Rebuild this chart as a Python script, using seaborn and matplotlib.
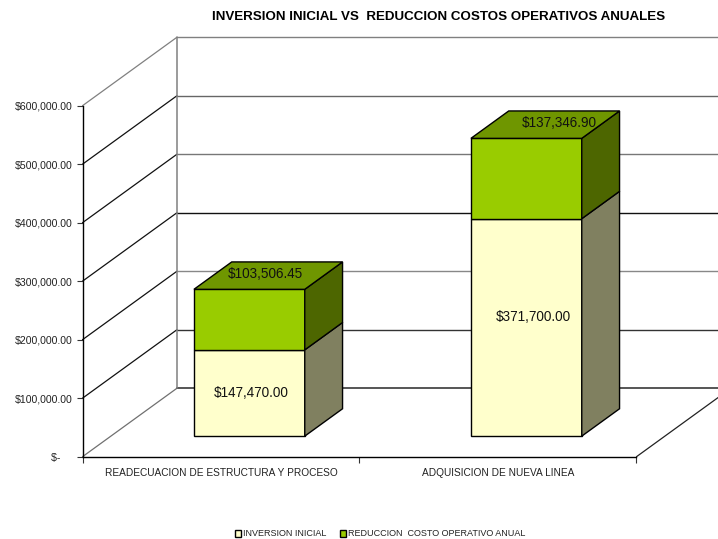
import numpy as np
import matplotlib
matplotlib.use("Agg")
import matplotlib.pyplot as plt
from matplotlib.patches import Polygon
import seaborn as sns

title = "INVERSION INICIAL VS  REDUCCION COSTOS OPERATIVOS ANUALES"
categories = ["READECUACION DE ESTRUCTURA Y PROCESO", "ADQUISICION DE NUEVA LINEA"]
inversion = [147470.00, 371700.00]
reduccion = [103506.45, 137346.90]
series_names = ["INVERSION INICIAL", "REDUCCION  COSTO OPERATIVO ANUAL"]
ticks = [0, 100000, 200000, 300000, 400000, 500000, 600000]

sns.set_style("white")
plt.rcParams["font.family"] = ["Liberation Sans", "DejaVu Sans"]

W, H = 718, 539
PX_PER_CAT, PX_PER_VAL = 277.0, 58.5 / 100000
X0, Y0 = 82.5, 456.7          # pixel location of the axis origin
DEPTH_X = 94.5 / PX_PER_CAT   # chart depth expressed in data units
DEPTH_Y = 68.5 / PX_PER_VAL
FRONT, BAR_D = 0.30, 0.40     # bar placement within the depth
WIDTH = 0.4

fig = plt.figure(figsize=(W / 100, H / 100), dpi=100, facecolor="white")
ax = fig.add_axes([0, 0, 1, 1])
ax.patch.set_alpha(0)

xpos = np.arange(len(categories)) + FRONT * DEPTH_X
base = np.full(len(categories), FRONT * DEPTH_Y)
inv = np.array(inversion)
red = np.array(reduccion)

sns.barplot(x=xpos, y=inv, bottom=base, native_scale=True, width=WIDTH, color="#FFFFCC",
            saturation=1, edgecolor="black", linewidth=1, ax=ax, label=series_names[0], zorder=1)
sns.barplot(x=xpos, y=red, bottom=base + inv, native_scale=True, width=WIDTH, color="#99CC00",
            saturation=1, edgecolor="black", linewidth=1, ax=ax, label=series_names[1], zorder=1)

ax.set_xlim(-0.5 - X0 / PX_PER_CAT, -0.5 + (W - X0) / PX_PER_CAT)
ax.set_ylim(-(H - Y0) / PX_PER_VAL, Y0 / PX_PER_VAL)

# walls and floor
left, right = -0.5, 1.5
back_colors = ["#555555", "#333333", "#888888", "#111111", "#777777", "#666666", "#808080"]
back_widths = [1.4, 1.0, 1.0, 1.0, 1.0, 1.0, 1.0]
side_colors = ["#707070", "#111111", "#111111", "#111111", "#111111", "#111111", "#808080"]
for i, t in enumerate(ticks):
    ax.plot([left, left + DEPTH_X], [t, t + DEPTH_Y], color=side_colors[i], lw=0.9, zorder=0.5)
    ax.plot([left + DEPTH_X, ax.get_xlim()[1]], [t + DEPTH_Y] * 2, color=back_colors[i],
            lw=back_widths[i], zorder=0.5)
ax.plot([left + DEPTH_X] * 2, [DEPTH_Y, ticks[-1] + DEPTH_Y], color="#808080", lw=1.1, zorder=0.5)
ax.plot([right, right + DEPTH_X], [0, DEPTH_Y], color="#222222", lw=0.9, zorder=0.5)

# 3D side and top faces of the bars
dx, dy = BAR_D * DEPTH_X, BAR_D * DEPTH_Y
for i in range(len(categories)):
    r = xpos[i] + WIDTH / 2
    l = xpos[i] - WIDTH / 2
    b0, b1, b2 = base[i], base[i] + inv[i], base[i] + inv[i] + red[i]
    for lo, hi, c in [(b0, b1, "#808060"), (b1, b2, "#4D6600")]:
        ax.add_patch(Polygon([(r, lo), (r + dx, lo + dy), (r + dx, hi + dy), (r, hi)],
                             facecolor=c, edgecolor="black", lw=1, zorder=1))
    ax.add_patch(Polygon([(l, b2), (l + dx, b2 + dy), (r + dx, b2 + dy), (r, b2)],
                         facecolor="#6F9600", edgecolor="black", lw=1, zorder=1))

# value labels
inv_off = [(2, 0), (7, 10)]
red_off = [(16, 46), (33, 56)]
for i in range(len(categories)):
    ax.annotate(f"${inv[i]:,.2f}", (xpos[i], base[i] + inv[i] / 2), xytext=inv_off[i],
                textcoords="offset pixels", ha="center", va="center", fontsize=9.75, color="#111111", zorder=3)
    ax.annotate(f"${red[i]:,.2f}", (xpos[i], base[i] + inv[i] + red[i] / 2), xytext=red_off[i],
                textcoords="offset pixels", ha="center", va="center", fontsize=9.75, color="#111111", zorder=3)

# axes
for s in ["top", "right"]:
    ax.spines[s].set_visible(False)
ax.spines["left"].set_position(("data", left))
ax.spines["left"].set_bounds(0, ticks[-1])
ax.spines["bottom"].set_position(("data", 0))
ax.spines["bottom"].set_bounds(left, right)
for s in ["left", "bottom"]:
    ax.spines[s].set_color("black")
    ax.spines[s].set_linewidth(1)
    ax.spines[s].set_zorder(2.5)

ax.set_yticks(ticks)
ax.set_yticklabels(["$-    " if t == 0 else f"${t:,.2f}" for t in ticks], fontsize=7.6, color="#222222")
ax.tick_params(axis="y", left=True, length=4.5, width=0.8, pad=3, color="#333333")
ax.set_xticks([-0.5, 0.5, 1.5])
ax.set_xticklabels(["", "", ""])
ax.set_xticks([0, 1], minor=True)
ax.set_xticklabels(categories, minor=True, fontsize=7.25, color="#222222")
ax.tick_params(axis="x", which="major", bottom=True, length=4.5, width=0.8, color="#333333")
ax.tick_params(axis="x", which="minor", bottom=False, length=0, pad=8)
ax.set_xlabel("")
ax.set_ylabel("")

ax.text(439 / W, 1 - 17.5 / H, title, transform=ax.transAxes, ha="center", va="center",
        fontsize=9.64, fontweight="bold", color="black")

leg = ax.legend(loc="center", bbox_to_anchor=(380 / W, 1 - 534 / H), ncol=2, frameon=False,
                fontsize=6.5, handlelength=0.72, handleheight=0.72, handletextpad=0.2,
                columnspacing=1.45, labelcolor="#222222", borderpad=0)

fig.savefig("out.png", dpi=100, facecolor="white")
